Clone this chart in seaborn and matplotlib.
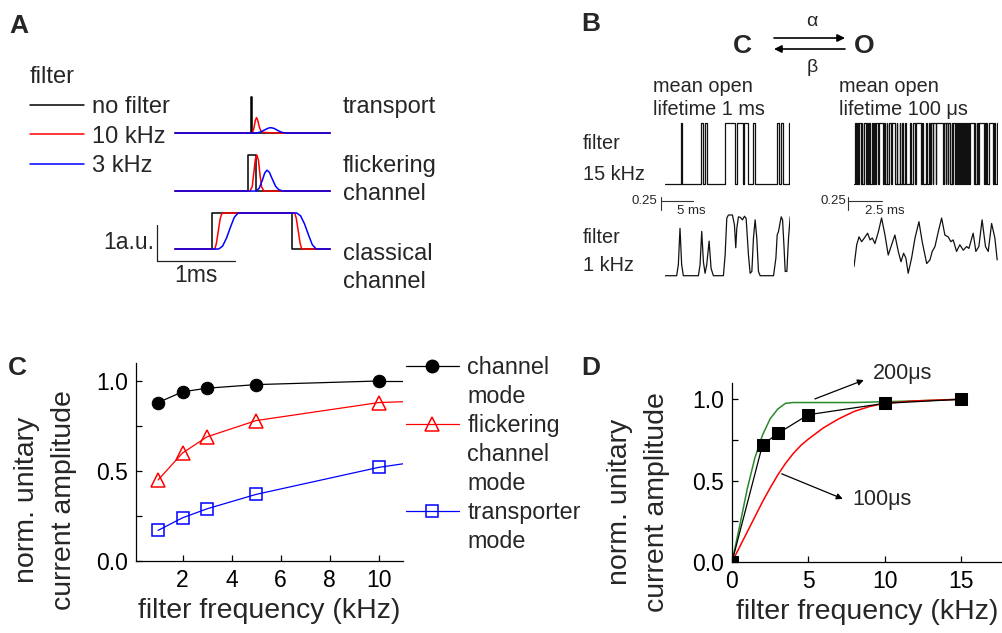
import matplotlib
matplotlib.use('Agg')
import matplotlib.pyplot as plt
import seaborn as sns
from matplotlib.lines import Line2D
from matplotlib.patches import FancyArrowPatch
from matplotlib.ticker import MultipleLocator, FormatStrFormatter

W, H = 1003, 633

# ---------------- panel A: simulated events (ms, a.u.) ----------------
a_filter_labels = ['no filter', '10 kHz', '3 kHz']
a_event_labels = ['transport', 'flickering\nchannel', 'classical\nchannel']

tr_black_t = [0, 0.975, 0.975, 0.99, 0.99, 1.99]
tr_black_y = [0, 0, 1, 1, 0, 0]
tr_red_t = [0, 0.99, 1.01, 1.03, 1.045, 1.06, 1.08, 1.1, 1.13, 1.2, 1.35, 1.99]
tr_red_y = [0, 0, 0.12, 0.35, 0.43, 0.36, 0.18, 0.06, 0.02, 0.01, 0, 0]
tr_blue_t = [0, 1.04, 1.1, 1.15, 1.2, 1.23, 1.27, 1.32, 1.37, 1.43, 1.99]
tr_blue_y = [0, 0, 0.03, 0.09, 0.14, 0.15, 0.13, 0.07, 0.02, 0, 0]

fl_black_t = [0, 0.94, 0.94, 1.04, 1.04, 1.99]
fl_black_y = [0, 0, 1, 1, 0, 0]
fl_red_t = [0, 0.96, 0.99, 1.01, 1.03, 1.05, 1.07, 1.09, 1.11, 1.14, 1.99]
fl_red_y = [0, 0, 0.12, 0.5, 0.88, 1.0, 0.85, 0.45, 0.12, 0, 0]
fl_blue_t = [0, 1.04, 1.08, 1.12, 1.15, 1.18, 1.21, 1.25, 1.29, 1.33, 1.38, 1.99]
fl_blue_y = [0, 0, 0.08, 0.3, 0.5, 0.58, 0.52, 0.32, 0.13, 0.04, 0, 0]

cl_black_t = [0, 0.474, 0.474, 1.496, 1.496, 1.99]
cl_black_y = [0, 0, 1, 1, 0, 0]
cl_red_t = [0, 0.51, 0.53, 0.555, 0.58, 0.6, 0.62, 1.535, 1.555, 1.58, 1.605, 1.625, 1.99]
cl_red_y = [0, 0, 0.15, 0.5, 0.85, 0.98, 1, 1, 0.85, 0.5, 0.15, 0, 0]
cl_blue_t = [0, 0.56, 0.61, 0.66, 0.71, 0.76, 0.81, 1.56, 1.61, 1.66, 1.71, 1.76, 1.81, 1.99]
cl_blue_y = [0, 0, 0.08, 0.3, 0.6, 0.88, 1, 1, 0.92, 0.7, 0.4, 0.12, 0, 0]

# ---------------- panel B: single channel records ----------------
b_open_level = 1.17
# mean open lifetime 1 ms, 15 kHz (ms)
b_slow_open = [2.5, 5.63, 6.25, 9.38, 11.17, 12.34, 13.75, 17.42, 18.05, 19.3]
b_slow_close = [2.73, 5.86, 6.48, 10.94, 12.19, 12.89, 14.06, 17.81, 18.44, 19.5]
b_slow_end = 19.5
# mean open lifetime 100 us, 15 kHz (ms)
b_fast_open = [0.05, 0.2, 0.36, 0.56, 0.7, 0.95, 1.1, 1.3, 1.45, 1.62, 1.82, 2.18, 2.4,
               2.6, 2.8, 3.15, 3.35, 3.55, 3.75, 4.15, 4.35, 4.55, 4.98, 5.3, 5.55, 5.7,
               5.85, 6.05, 6.62, 6.8, 6.95, 7.18, 7.3, 7.5, 7.62, 7.8, 7.95, 8.1, 8.25,
               8.4, 8.55, 8.88, 9.05, 9.2, 9.62, 9.75, 9.95, 10.3, 10.5]
b_fast_close = [0.12, 0.3, 0.5, 0.62, 0.85, 1.05, 1.2, 1.38, 1.55, 1.78, 2.1, 2.25, 2.46,
                2.7, 3.05, 3.2, 3.42, 3.62, 3.8, 4.22, 4.5, 4.9, 5.05, 5.35, 5.62, 5.78,
                6.0, 6.55, 6.75, 6.9, 7.1, 7.25, 7.4, 7.55, 7.72, 7.86, 8.02, 8.18, 8.3,
                8.5, 8.8, 8.93, 9.15, 9.55, 9.68, 9.8, 10.25, 10.4, 10.6]
b_fast_end = 10.6
# the same records filtered at 1 kHz (relative amplitude)
b_slow_1k_t = [0, 1.82, 2.08, 2.34, 2.6, 2.86, 5.21, 5.47, 5.73, 5.99, 6.25, 6.51, 6.88,
               7.19, 7.55, 9.11, 9.38, 9.64, 9.9, 10.52, 10.83, 11.04, 11.2, 11.46, 11.77,
               12.08, 12.4, 12.66, 13.02, 13.28, 13.55, 13.8, 14.06, 14.32, 14.58, 14.84,
               16.93, 17.3, 17.5, 17.71, 17.93, 18.13, 18.34, 18.55, 18.75, 19.01, 19.27, 19.53]
b_slow_1k_y = [0, 0, 0.18, 0.78, 0.18, 0, 0, 0.18, 0.73, 0.23, 0.04, 0.18, 0.57,
               0.12, 0, 0, 0.34, 0.95, 1.0, 1.0, 0.84, 0.46, 0.78, 0.97, 0.96,
               0.92, 0.98, 0.94, 0.34, 0.04, 0.07, 0.62, 0.92, 0.62, 0.07, 0,
               0, 0.29, 0.67, 0.73, 0.86, 0.97, 0.92, 0.51, 0.07, 0.07, 0.62, 0.97]
b_fast_1k_t = [0, 0.2, 0.37, 0.56, 0.76, 1.0, 1.18, 1.35, 1.54, 1.79, 2.03, 2.28, 2.52,
               2.77, 3.01, 3.26, 3.46, 3.65, 3.82, 3.99, 4.24, 4.49, 4.78, 5.02, 5.35,
               5.59, 5.76, 5.96, 6.2, 6.45, 6.69, 6.93, 7.13, 7.3, 7.55, 7.79, 8.04,
               8.29, 8.46, 8.77, 8.97, 9.19, 9.43, 9.68, 9.88, 10.13, 10.37, 10.54]
b_fast_1k_y = [0.15, 0.51, 0.64, 0.56, 0.62, 0.70, 0.59, 0.62, 0.53, 0.72, 0.95, 0.67, 0.34,
               0.51, 0.67, 0.40, 0.23, 0.37, 0.29, 0.04, 0.29, 0.62, 0.89, 0.56, 0.20,
               0.26, 0.40, 0.48, 0.72, 0.95, 0.67, 0.64, 0.56, 0.59, 0.40, 0.51, 0.42,
               0.48, 0.45, 0.70, 0.40, 0.48, 0.92, 0.48, 0.40, 0.86, 0.62, 0.26]

# ---------------- panel C ----------------
c_freq = [1, 2, 3, 5, 10]
c_channel = [0.88, 0.94, 0.96, 0.98, 1.0]
c_flicker = [0.45, 0.60, 0.69, 0.78, 0.88]
c_transporter = [0.17, 0.24, 0.29, 0.37, 0.52]
c_fit_freq = [10, 11]
c_channel_fit = [1.0, 1.0]
c_flicker_fit = [0.88, 0.885]
c_transporter_fit = [0.52, 0.54]
c_legend = ['channel', 'mode', 'flickering', 'channel', 'mode', 'transporter', 'mode']

# ---------------- panel D ----------------
d_freq = [0, 2, 3, 5, 10, 15]
d_amp = [0.0, 0.72, 0.79, 0.905, 0.975, 1.0]
d_200_freq = [0, 0.5, 1.0, 1.5, 2.0, 2.5, 3.0, 3.5, 4.0, 6, 8, 10, 12, 15]
d_200_amp = [0, 0.22, 0.45, 0.64, 0.78, 0.88, 0.94, 0.975, 0.98, 0.98, 0.98, 0.985, 0.99, 1.0]
d_100_freq = [0, 1, 2, 2.5, 3, 3.5, 4, 4.5, 5, 6, 7, 8, 9, 10, 12, 15]
d_100_amp = [0, 0.185, 0.37, 0.455, 0.535, 0.605, 0.665, 0.715, 0.755, 0.825, 0.88, 0.925,
             0.955, 0.975, 0.99, 1.0]

sns.set_theme(style='white')
plt.rcParams['font.family'] = ['Liberation Sans', 'DejaVu Sans']

fig = plt.figure(figsize=(W / 100, H / 100), dpi=100)


def px_axes(left, top, right, bottom):
    return fig.add_axes([left / W, 1 - bottom / H, (right - left) / W, (bottom - top) / H])


def trace(ax, x, y, color, lw=1.1, label=None):
    sns.lineplot(x=x, y=y, ax=ax, color=color, lw=lw, estimator=None, sort=False,
                 label=label, legend=False)


def steps(opens, closes, end, level):
    xs, ys = [0], [0]
    for o, c in zip(opens, closes):
        xs += [o, o]
        ys += [0, level]
        if c < end:
            xs += [c, c]
            ys += [level, 0]
        else:
            xs.append(end)
            ys.append(level)
    if xs[-1] < end:
        xs.append(end)
        ys.append(0)
    return xs, ys


def label_panel(letter, x, y):
    fig.text(x / W, 1 - y / H, letter, fontsize=19, fontweight='bold', ha='center', va='center')


# ================= A =================
ax_a = px_axes(100, 60, 440, 300)
ax_a.set_xlim((100 - 175) / 78, (440 - 175) / 78)
ax_a.set_ylim((249 - 300) / 36, (249 - 60) / 36)
ax_a.axis('off')
off_tr, off_fl = 3.22, 1.61
groups = [
    (off_tr, tr_black_t, tr_black_y, tr_red_t, tr_red_y, tr_blue_t, tr_blue_y),
    (off_fl, fl_black_t, fl_black_y, fl_red_t, fl_red_y, fl_blue_t, fl_blue_y),
    (0, cl_black_t, cl_black_y, cl_red_t, cl_red_y, cl_blue_t, cl_blue_y),
]
for i, (off, bt, by, rt, ry, ut, uy) in enumerate(groups):
    trace(ax_a, bt, [v + off for v in by], 'black', label=a_filter_labels[0] if i == 0 else None)
    trace(ax_a, rt, [v + off for v in ry], '#ff0000', label=a_filter_labels[1] if i == 0 else None)
    trace(ax_a, ut, [v + off for v in uy], '#0000ff', label=a_filter_labels[2] if i == 0 else None)
for lab, yc in zip(a_event_labels, [3.94, 1.92, -0.53]):
    ax_a.text(2.154, yc, lab, fontsize=17, ha='left', va='center', linespacing=1.34)
# scale bar
ax_a.plot([-0.231, -0.231, 0.769], [0.667, -0.333, -0.333], color='#222222', lw=0.9)
ax_a.text(-0.27, 0.17, '1a.u.', fontsize=16.5, ha='right', va='center')
ax_a.text(0.27, -0.75, '1ms', fontsize=16.5, ha='center', va='center')
ax_a.legend(title='filter', loc='upper left', bbox_to_anchor=(30 / W, 1 - 66 / H),
            bbox_transform=fig.transFigure, frameon=False, fontsize=17, title_fontsize=17,
            alignment='left', borderpad=0, borderaxespad=0, handlelength=2.29,
            handletextpad=0.34, labelspacing=0.33)

# ================= B =================
fig.text(742 / W, 1 - 46 / H, 'C', fontsize=19, fontweight='bold', ha='center', va='center')
fig.text(864 / W, 1 - 46 / H, 'O', fontsize=19, fontweight='bold', ha='center', va='center')
fig.text(812 / W, 1 - 21 / H, 'α', fontsize=14, ha='center', va='center')
fig.text(812 / W, 1 - 68 / H, 'β', fontsize=14, ha='center', va='center')
arrow_kw = dict(arrowstyle='-|>', color='black', lw=1.2, mutation_scale=11, shrinkA=0, shrinkB=0)
fig.add_artist(FancyArrowPatch((774 / W, 1 - 38 / H), (845 / W, 1 - 38 / H),
                               transform=fig.transFigure, **arrow_kw))
fig.add_artist(FancyArrowPatch((845 / W, 1 - 49 / H), (774 / W, 1 - 49 / H),
                               transform=fig.transFigure, **arrow_kw))
fig.text(653 / W, 1 - 98 / H, 'mean open\nlifetime 1 ms', fontsize=14.3, ha='left', va='center',
         linespacing=1.3)
fig.text(839 / W, 1 - 98 / H, 'mean open\nlifetime 100 μs', fontsize=14.3, ha='left', va='center',
         linespacing=1.3)
fig.text(583 / W, 1 - 159 / H, 'filter\n15 kHz', fontsize=14.3, ha='left', va='center', linespacing=1.84)
fig.text(583 / W, 1 - 251 / H, 'filter\n1 kHz', fontsize=14.3, ha='left', va='center', linespacing=1.6)

ax_b1 = px_axes(665, 110, 790, 215)
ax_b2 = px_axes(854, 110, 998, 215)
ax_b3 = px_axes(665, 205, 790, 285)
ax_b4 = px_axes(854, 205, 998, 285)
for ax in [ax_b1, ax_b2]:
    ax.set_ylim(-(215 - 184) / 52, (184 - 110) / 52)
for ax in [ax_b3, ax_b4]:
    ax.set_ylim(-(285 - 275.7) / 60.7, (275.7 - 205) / 60.7)
ax_b1.set_xlim(0, b_slow_end)
ax_b3.set_xlim(0, b_slow_end)
ax_b2.set_xlim(0, b_fast_end)
ax_b4.set_xlim(0, b_fast_end)

sx, sy = steps(b_slow_open, b_slow_close, b_slow_end, b_open_level)
trace(ax_b1, sx, sy, '#111111', lw=0.9)
fx_, fy_ = steps(b_fast_open, b_fast_close, b_fast_end, b_open_level)
trace(ax_b2, fx_, fy_, '#111111', lw=0.9)
trace(ax_b3, b_slow_1k_t, b_slow_1k_y, '#111111', lw=0.9)
trace(ax_b4, b_fast_1k_t, b_fast_1k_y, '#111111', lw=0.9)

for ax, x0, x1, tl, tx, lab in [(ax_b1, -0.67, 4.33, -1.2, 1.875, '5 ms'),
                                (ax_b2, -0.44, 2.06, -0.59, 0.81, '2.5 ms')]:
    ax.plot([x0, x0], [-0.25, -0.5], color='#333333', lw=0.8, clip_on=False)
    ax.plot([x0, x1], [-0.327, -0.327], color='#333333', lw=0.8, clip_on=False)
    ax.text(tl, -0.327, '0.25', fontsize=9.5, ha='right', va='center')
    ax.text(tx, -0.52, lab, fontsize=9.5, ha='left', va='center')
for ax in [ax_b1, ax_b2, ax_b3, ax_b4]:
    ax.axis('off')


# ================= C & D =================
def style_axes(ax):
    sns.despine(ax=ax)
    for s in ['left', 'bottom']:
        ax.spines[s].set_color('black')
        ax.spines[s].set_linewidth(0.9)
    ax.yaxis.set_major_locator(MultipleLocator(0.5))
    ax.yaxis.set_minor_locator(MultipleLocator(0.25))
    ax.yaxis.set_major_formatter(FormatStrFormatter('%.1f'))
    ax.tick_params(which='both', direction='in', length=4.5, width=0.9, colors='black',
                   labelsize=16.5, pad=6, left=True, bottom=True)
    ax.tick_params(which='minor', labelleft=False)
    ax.set_ylim(0, 1.1)
    ax.set_xlabel('filter frequency (kHz)', fontsize=20.5, labelpad=4)
    ax.set_ylabel('norm. unitary\ncurrent amplitude', fontsize=20.5, linespacing=1.55)


ax_c = px_axes(136, 363, 403, 561)
sns.lineplot(x=c_freq, y=c_channel, ax=ax_c, color='black', lw=0.9, marker='o', ms=9,
             mfc='black', mec='black')
sns.lineplot(x=c_fit_freq, y=c_channel_fit, ax=ax_c, color='black', lw=0.9)
sns.lineplot(x=c_freq, y=c_flicker, ax=ax_c, color='#ff0000', lw=0.9, marker='^', ms=10,
             mfc='none', mec='#ff0000', mew=1.1)
sns.lineplot(x=c_fit_freq, y=c_flicker_fit, ax=ax_c, color='#ff0000', lw=0.9)
sns.lineplot(x=c_freq, y=c_transporter, ax=ax_c, color='#0000ff', lw=0.9, marker='s', ms=8,
             mfc='none', mec='#0000ff', mew=1.1)
sns.lineplot(x=c_fit_freq, y=c_transporter_fit, ax=ax_c, color='#0000ff', lw=0.9)
ax_c.set_xlim(0.1, 11)
ax_c.xaxis.set_major_locator(MultipleLocator(2))
style_axes(ax_c)
ax_c.yaxis.set_label_coords((77 - 136) / 267, (561 - 500) / 198)

blank = Line2D([], [], color='none')
c_handles = [Line2D([], [], color='black', lw=0.9, marker='o', ms=9), blank,
             Line2D([], [], color='#ff0000', lw=0.9, marker='^', ms=10, mfc='none', mew=1.1), blank, blank,
             Line2D([], [], color='#0000ff', lw=0.9, marker='s', ms=8, mfc='none', mew=1.1), blank]
ax_c.legend(c_handles, c_legend, loc='upper left', bbox_to_anchor=(406 / W, 1 - 356 / H),
            bbox_transform=fig.transFigure, frameon=False, fontsize=16.8, borderpad=0,
            borderaxespad=0, handlelength=2.27, handletextpad=0.35, labelspacing=0.26)

ax_d = px_axes(732, 383, 1003, 562)
sns.lineplot(x=d_200_freq, y=d_200_amp, ax=ax_d, color='#2a8a2a', lw=1.1)
sns.lineplot(x=d_100_freq, y=d_100_amp, ax=ax_d, color='#ff0000', lw=1.1)
sns.lineplot(x=d_freq, y=d_amp, ax=ax_d, color='black', lw=0.9, marker='s', ms=8,
             mfc='black', mec='black')
ax_d.set_xlim(0, (1003 - 732.3) / 15.24)
ax_d.xaxis.set_major_locator(MultipleLocator(5))
style_axes(ax_d)
ax_d.yaxis.set_label_coords((670 - 732) / 271, (562 - 502) / 179)
arr = dict(arrowstyle='-|>', color='black', lw=0.9, mutation_scale=9, shrinkA=0, shrinkB=0)
ax_d.annotate('', xy=(8.64, 1.118), xytext=(5.43, 1.002), arrowprops=arr, annotation_clip=False)
ax_d.annotate('', xy=(7.26, 0.388), xytext=(3.26, 0.542), arrowprops=arr, annotation_clip=False)
ax_d.text(9.23, 1.16, '200μs', fontsize=15.5, ha='left', va='center')
ax_d.text(7.9, 0.382, '100μs', fontsize=15.5, ha='left', va='center')

label_panel('A', 19, 26)
label_panel('B', 591, 24)
label_panel('C', 17, 368)
label_panel('D', 591, 368)

fig.savefig('out.png', dpi=100)
